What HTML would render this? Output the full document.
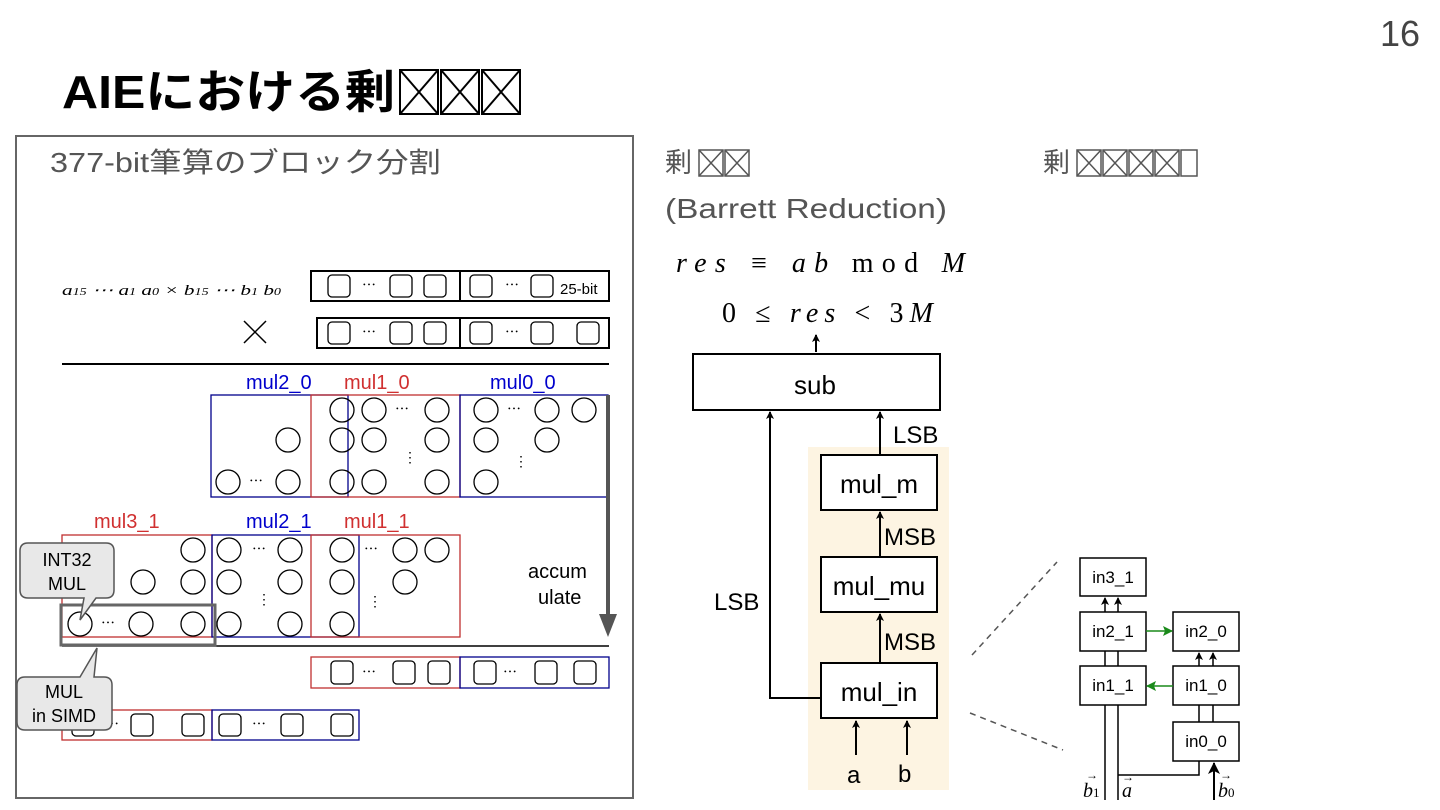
<!DOCTYPE html>
<html><head><meta charset="utf-8"><style>
html,body{margin:0;padding:0;background:#fff;width:1440px;height:810px;overflow:hidden}
svg text{font-family:"Liberation Sans","Noto Sans CJK JP",sans-serif}
.m{font-family:"Liberation Serif","DejaVu Serif",serif;font-style:italic}
</style></head><body>
<svg width="1440" height="810" viewBox="0 0 1440 810" xmlns="http://www.w3.org/2000/svg">
<defs>
<marker id="ah" markerWidth="8" markerHeight="8" refX="7" refY="4" orient="auto" markerUnits="userSpaceOnUse" viewBox="0 0 8 8"><path d="M0,0 L8,4 L0,8 L2,4z" fill="#000"/></marker>
<marker id="ag" markerWidth="10" markerHeight="10" refX="9" refY="5" orient="auto" markerUnits="userSpaceOnUse" viewBox="0 0 10 10"><path d="M0,0 L10,5 L0,10 L2,5z" fill="#1a8a1a"/></marker>
<marker id="ab" markerWidth="12" markerHeight="12" refX="11" refY="6" orient="auto" markerUnits="userSpaceOnUse" viewBox="0 0 12 12"><path d="M0,0 L12,6 L0,12 L3,6z" fill="#000"/></marker>
</defs>
<text x="1380" y="46" font-size="36" fill="#444">16</text>
<text x="62" y="108" font-size="46" font-weight="bold" fill="#000" textLength="333" lengthAdjust="spacingAndGlyphs">AIEにおける剰</text>
<g stroke="#000" stroke-width="2" fill="none">
<rect x="400" y="70" width="38" height="44"/><path d="M400,70 L438,114 M438,70 L400,114"/>
<rect x="441" y="70" width="38" height="44"/><path d="M441,70 L479,114 M479,70 L441,114"/>
<rect x="482" y="70" width="38" height="44"/><path d="M482,70 L520,114 M520,70 L482,114"/>
</g>
<rect x="16" y="136" width="617" height="662" fill="none" stroke="#666" stroke-width="2"/>
<text x="50" y="172" font-size="28" fill="#555" textLength="391" lengthAdjust="spacingAndGlyphs">377-bit筆算のブロック分割</text>
<text x="62" y="295" font-size="15" class="m" textLength="219" lengthAdjust="spacingAndGlyphs">a<tspan font-size="10">15</tspan> ⋯ a<tspan font-size="10">1</tspan> a<tspan font-size="10">0</tspan> × b<tspan font-size="10">15</tspan> ⋯ b<tspan font-size="10">1</tspan> b<tspan font-size="10">0</tspan></text>
<g fill="none" stroke="#000" stroke-width="1.3">
<rect x="311" y="271" width="298" height="30" stroke-width="2"/><line x1="460" y1="271" x2="460" y2="301" stroke-width="2"/>
<rect x="317" y="318" width="292" height="30" stroke-width="2"/><line x1="460" y1="318" x2="460" y2="348" stroke-width="2"/>
<rect x="328" y="275" width="22" height="22" rx="4"/><rect x="390" y="275" width="22" height="22" rx="4"/><rect x="424" y="275" width="22" height="22" rx="4"/><rect x="470" y="275" width="22" height="22" rx="4"/><rect x="531" y="275" width="22" height="22" rx="4"/>
<rect x="328" y="322" width="22" height="22" rx="4"/><rect x="390" y="322" width="22" height="22" rx="4"/><rect x="424" y="322" width="22" height="22" rx="4"/><rect x="470" y="322" width="22" height="22" rx="4"/><rect x="531" y="322" width="22" height="22" rx="4"/><rect x="577" y="322" width="22" height="22" rx="4"/>
<path d="M244,321 L266,343 M266,321 L244,343" stroke-width="1.5"/>
<line x1="62" y1="364" x2="609" y2="364" stroke-width="2"/>
</g>
<text x="560" y="294" font-size="15">25-bit</text>
<g font-size="14"><text x="362" y="290">⋯</text><text x="505" y="290">⋯</text><text x="362" y="337">⋯</text><text x="505" y="337">⋯</text></g>
<g font-size="20"><text x="246" y="389" fill="#0000cc">mul2_0</text><text x="344" y="389" fill="#d03030">mul1_0</text><text x="490" y="389" fill="#0000cc">mul0_0</text>
<text x="94" y="528" fill="#d03030">mul3_1</text><text x="246" y="528" fill="#0000cc">mul2_1</text><text x="344" y="528" fill="#d03030">mul1_1</text></g>
<g fill="none" stroke-width="1.3">
<rect x="211" y="395" width="137" height="102" stroke="#00008b"/><rect x="311" y="395" width="149" height="102" stroke="#c03030"/><rect x="460" y="395" width="148" height="102" stroke="#00008b"/>
<rect x="62" y="535" width="150" height="102" stroke="#c03030"/><rect x="212" y="535" width="147" height="102" stroke="#00008b"/><rect x="311" y="535" width="149" height="102" stroke="#c03030"/>
</g>
<g fill="none" stroke="#000" stroke-width="1.3">
<circle cx="342" cy="410" r="12"/><circle cx="374" cy="410" r="12"/><circle cx="437" cy="410" r="12"/><circle cx="486" cy="410" r="12"/><circle cx="547" cy="410" r="12"/><circle cx="584" cy="410" r="12"/>
<circle cx="288" cy="440" r="12"/><circle cx="342" cy="440" r="12"/><circle cx="374" cy="440" r="12"/><circle cx="437" cy="440" r="12"/><circle cx="486" cy="440" r="12"/><circle cx="547" cy="440" r="12"/>
<circle cx="228" cy="482" r="12"/><circle cx="288" cy="482" r="12"/><circle cx="342" cy="482" r="12"/><circle cx="374" cy="482" r="12"/><circle cx="437" cy="482" r="12"/><circle cx="486" cy="482" r="12"/>
<circle cx="193" cy="550" r="12"/><circle cx="229" cy="550" r="12"/><circle cx="290" cy="550" r="12"/><circle cx="342" cy="550" r="12"/><circle cx="405" cy="550" r="12"/><circle cx="437" cy="550" r="12"/>
<circle cx="143" cy="582" r="12"/><circle cx="193" cy="582" r="12"/><circle cx="229" cy="582" r="12"/><circle cx="290" cy="582" r="12"/><circle cx="342" cy="582" r="12"/><circle cx="405" cy="582" r="12"/>
<circle cx="80" cy="624" r="12"/><circle cx="141" cy="624" r="12"/><circle cx="193" cy="624" r="12"/><circle cx="229" cy="624" r="12"/><circle cx="290" cy="624" r="12"/><circle cx="342" cy="624" r="12"/>
</g>
<g font-size="14"><text x="395" y="414">⋯</text><text x="507" y="414">⋯</text><text x="249" y="486">⋯</text><text x="252" y="554">⋯</text><text x="364" y="554">⋯</text><text x="101" y="628">⋯</text>
<text x="403" y="462">⋮</text><text x="514" y="466">⋮</text><text x="257" y="604">⋮</text><text x="368" y="606">⋮</text></g>
<line x1="608" y1="395" x2="608" y2="622" stroke="#555" stroke-width="4"/><path d="M599,614 L608,637 L617,614z" fill="#555"/>
<text x="528" y="578" font-size="20">accum</text><text x="538" y="604" font-size="20">ulate</text>
<line x1="62" y1="646" x2="609" y2="646" stroke="#000" stroke-width="1.5"/>
<rect x="61" y="605" width="154" height="40" fill="none" stroke="#666" stroke-width="3"/>
<g fill="none" stroke-width="1.3">
<rect x="311" y="657" width="149" height="31" stroke="#c03030"/><rect x="460" y="657" width="149" height="31" stroke="#00008b"/>
<rect x="62" y="710" width="150" height="30" stroke="#c03030"/><rect x="212" y="710" width="147" height="30" stroke="#00008b"/>
</g>
<g fill="none" stroke="#000" stroke-width="1.3">
<rect x="331" y="661" width="22" height="23" rx="4"/><rect x="393" y="661" width="22" height="23" rx="4"/><rect x="428" y="661" width="22" height="23" rx="4"/><rect x="474" y="661" width="22" height="23" rx="4"/><rect x="535" y="661" width="22" height="23" rx="4"/><rect x="574" y="661" width="22" height="23" rx="4"/>
<rect x="72" y="714" width="22" height="22" rx="4"/><rect x="131" y="714" width="22" height="22" rx="4"/><rect x="182" y="714" width="22" height="22" rx="4"/><rect x="219" y="714" width="22" height="22" rx="4"/><rect x="281" y="714" width="22" height="22" rx="4"/><rect x="331" y="714" width="22" height="22" rx="4"/>
</g>
<g font-size="14"><text x="362" y="677">⋯</text><text x="503" y="677">⋯</text><text x="105" y="729">⋯</text><text x="252" y="729">⋯</text></g>
<path d="M28,543 H106 Q114,543 114,551 V590 Q114,598 106,598 H96 L80,620 L84,598 H28 Q20,598 20,590 V551 Q20,543 28,543z" fill="#e8e8e8" stroke="#555" stroke-width="1.5"/>
<text x="67" y="566" font-size="18" text-anchor="middle">INT32</text><text x="67" y="590" font-size="18" text-anchor="middle">MUL</text>
<path d="M25,677 H80 L97,648 L94,677 H104 Q112,677 112,685 V722 Q112,730 104,730 H25 Q17,730 17,722 V685 Q17,677 25,677z" fill="#e8e8e8" stroke="#555" stroke-width="1.5"/>
<text x="64" y="698" font-size="18" text-anchor="middle">MUL</text><text x="64" y="722" font-size="18" text-anchor="middle">in SIMD</text>
<text x="665" y="172" font-size="27" fill="#555">剰</text>
<g stroke="#555" stroke-width="1.5" fill="none"><rect x="699" y="150" width="24" height="26"/><path d="M699,150 L723,176 M723,150 L699,176"/><rect x="725" y="150" width="24" height="26"/><path d="M725,150 L749,176 M749,150 L725,176"/></g>
<text x="665" y="218" font-size="28" fill="#555" textLength="282" lengthAdjust="spacingAndGlyphs">(Barrett Reduction)</text>
<text x="1043" y="172" font-size="27" fill="#555">剰</text>
<g stroke="#555" stroke-width="1.5" fill="none"><rect x="1077" y="150" width="24" height="26"/><path d="M1077,150 L1101,176 M1101,150 L1077,176"/><rect x="1103" y="150" width="24" height="26"/><path d="M1103,150 L1127,176 M1127,150 L1103,176"/><rect x="1129" y="150" width="24" height="26"/><path d="M1129,150 L1153,176 M1153,150 L1129,176"/><rect x="1155" y="150" width="24" height="26"/><path d="M1155,150 L1179,176 M1179,150 L1155,176"/><rect x="1181" y="150" width="16" height="26"/></g>
<text x="676" y="272" font-size="28" class="m" textLength="289" lengthAdjust="spacing">res ≡ ab <tspan font-style="normal">  mod</tspan>  M</text>
<text x="722" y="322" font-size="28" class="m" textLength="211" lengthAdjust="spacing"><tspan font-style="normal">0 ≤ </tspan>res<tspan font-style="normal"> &lt; 3</tspan>M</text>
<rect x="808" y="447" width="141" height="343" fill="#fdf4e2"/>
<g fill="#fff" stroke="#000" stroke-width="2">
<rect x="693" y="354" width="247" height="56"/><rect x="821" y="455" width="116" height="55"/><rect x="821" y="557" width="116" height="55"/><rect x="821" y="663" width="116" height="55"/>
</g>
<g font-size="26" text-anchor="middle"><text x="815" y="394">sub</text><text x="879" y="493">mul_m</text><text x="879" y="595">mul_mu</text><text x="879" y="701">mul_in</text></g>
<g stroke="#000" stroke-width="2" fill="none" marker-end="url(#ah)">
<line x1="816" y1="352" x2="816" y2="335"/><line x1="880" y1="455" x2="880" y2="412"/><line x1="880" y1="557" x2="880" y2="512"/><line x1="880" y1="663" x2="880" y2="614"/>
<path d="M821,698 H770 V412"/><line x1="856" y1="755" x2="856" y2="721"/><line x1="907" y1="755" x2="907" y2="721"/>
</g>
<g font-size="24"><text x="893" y="443">LSB</text><text x="884" y="545">MSB</text><text x="884" y="650">MSB</text><text x="714" y="610">LSB</text><text x="847" y="783">a</text><text x="898" y="782">b</text></g>
<g stroke="#555" stroke-width="1.5" stroke-dasharray="6,5"><line x1="972" y1="655" x2="1057" y2="562"/><line x1="970" y1="713" x2="1063" y2="750"/></g>
<g fill="#fff" stroke="#000" stroke-width="1.5">
<rect x="1080" y="558" width="66" height="38"/><rect x="1080" y="612" width="66" height="39"/><rect x="1080" y="666" width="66" height="39"/><rect x="1173" y="612" width="66" height="39"/><rect x="1173" y="666" width="66" height="39"/><rect x="1173" y="722" width="66" height="39"/>
</g>
<g font-size="17" text-anchor="middle"><text x="1113" y="583">in3_1</text><text x="1113" y="637">in2_1</text><text x="1113" y="691">in1_1</text><text x="1206" y="637">in2_0</text><text x="1206" y="691">in1_0</text><text x="1206" y="747">in0_0</text></g>
<g stroke="#000" stroke-width="1.5" fill="none">
<line x1="1105" y1="612" x2="1105" y2="598" marker-end="url(#ah)"/><line x1="1118" y1="612" x2="1118" y2="598" marker-end="url(#ah)"/>
<line x1="1199" y1="666" x2="1199" y2="653" marker-end="url(#ah)"/><line x1="1213" y1="666" x2="1213" y2="653" marker-end="url(#ah)"/>
<line x1="1105" y1="651" x2="1105" y2="666"/><line x1="1118" y1="651" x2="1118" y2="666"/><line x1="1199" y1="705" x2="1199" y2="722"/><line x1="1213" y1="705" x2="1213" y2="722"/>
<line x1="1105" y1="705" x2="1105" y2="800"/><path d="M1118,705 V800 M1118,775 H1199 V761"/>
<line x1="1214" y1="800" x2="1214" y2="763" marker-end="url(#ab)" stroke-width="2"/>
<line x1="1146" y1="631" x2="1172" y2="631" stroke="#1a8a1a" marker-end="url(#ag)"/><line x1="1173" y1="686" x2="1147" y2="686" stroke="#1a8a1a" marker-end="url(#ag)"/>
</g>
<text x="1083" y="797" font-size="20" class="m">b<tspan font-size="13" font-style="normal">1</tspan></text>
<text x="1122" y="797" font-size="20" class="m">a</text>
<text x="1218" y="797" font-size="20" class="m">b<tspan font-size="13" font-style="normal">0</tspan></text>
<g font-size="12"><text x="1086" y="779">→</text><text x="1122" y="781">→</text><text x="1220" y="779">→</text></g>
</svg>
</body></html>
